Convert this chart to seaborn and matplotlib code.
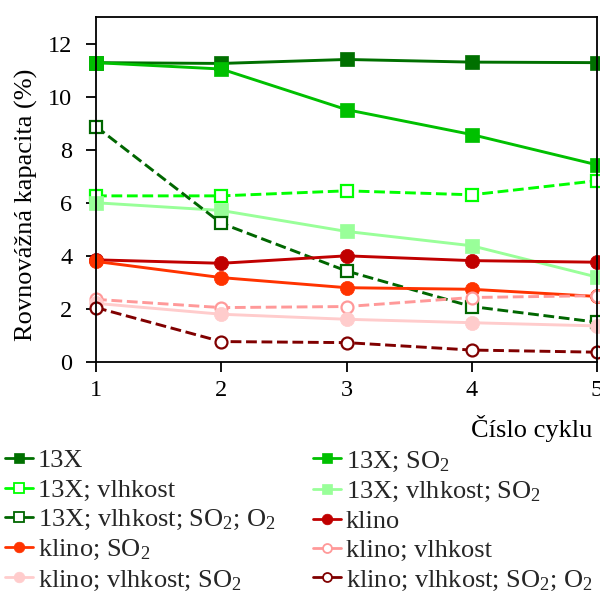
import matplotlib
matplotlib.use("Agg")
import matplotlib.pyplot as plt
from matplotlib.lines import Line2D
import seaborn as sns
import pandas as pd

cycles = [1, 2, 3, 4, 5]
labels = [
    "13X", "13X; SO$_\\mathrm{2}$", "13X; vlhkost", "13X; vlhkost; SO$_\\mathrm{2}$",
    "13X; vlhkost; SO$_\\mathrm{2}$; O$_\\mathrm{2}$", "klino", "klino; SO$_\\mathrm{2}$",
    "klino; vlhkost", "klino; vlhkost; SO$_\\mathrm{2}$",
    "klino; vlhkost; SO$_\\mathrm{2}$; O$_\\mathrm{2}$",
]
v_13x = [11.28, 11.25, 11.40, 11.30, 11.28]
v_13x_so2 = [11.28, 11.04, 9.51, 8.57, 7.43]
v_13x_vl = [6.26, 6.26, 6.45, 6.30, 6.83]
v_13x_vl_so2 = [6.00, 5.71, 4.92, 4.38, 3.20]
v_13x_vl_so2_o2 = [8.87, 5.23, 3.43, 2.09, 1.50]
v_kl = [3.85, 3.72, 4.00, 3.82, 3.76]
v_kl_so2 = [3.79, 3.18, 2.80, 2.74, 2.47]
v_kl_vl = [2.36, 2.05, 2.09, 2.43, 2.50]
v_kl_vl_so2 = [2.21, 1.80, 1.61, 1.48, 1.36]
v_kl_vl_so2_o2 = [2.05, 0.77, 0.73, 0.45, 0.37]

series = [v_13x, v_13x_so2, v_13x_vl, v_13x_vl_so2, v_13x_vl_so2_o2,
          v_kl, v_kl_so2, v_kl_vl, v_kl_vl_so2, v_kl_vl_so2_o2]
colors = ["#007000", "#00c000", "#00ff00", "#99ff99", "#006600",
          "#c00000", "#ff3300", "#ff9999", "#ffcccc", "#800000"]
markers = ["s", "s", "s", "s", "s", "o", "o", "o", "o", "o"]
filled = [True, True, False, True, False, True, True, False, True, False]
dashed = [False, False, True, False, True, False, False, True, False, True]

sns.set_theme(style="ticks")
plt.rcParams["font.family"] = ["Liberation Serif", "DejaVu Serif"]
plt.rcParams["mathtext.fontset"] = "custom"
plt.rcParams["mathtext.rm"] = "Liberation Serif"
plt.rcParams["mathtext.it"] = "Liberation Serif:italic"

fig = plt.figure(figsize=(6.0, 5.95), dpi=100)
ax = fig.add_axes([96 / 600, 1 - 362 / 595, 501 / 600, 345 / 595])


def msize(m, f):
    if m == "s":
        return 10 if f else 9.3
    return 10.2 if f else 8.6


proxies = []
for vals, lab, c, m, f, d in zip(series, labels, colors, markers, filled, dashed):
    df = pd.DataFrame({"x": cycles, "y": vals})
    kw = dict(color=c, marker=m, markersize=msize(m, f),
              markerfacecolor=(c if f else "white"), markeredgecolor=c,
              markeredgewidth=(0.5 if f else 1.6))
    sns.lineplot(data=df, x="x", y="y", ax=ax, linestyle=("--" if d else "-"),
                 linewidth=2.1, label=lab, legend=False, clip_on=False, **kw)
    kw["markersize"] = msize(m, f) * 0.75
    kw["markeredgewidth"] = 0.5 if f else 1.3
    proxies.append(Line2D([], [], linestyle="-", linewidth=2.0, **kw))

ax.set_xlim(1, 5)
ax.set_ylim(0, 13)
ax.set_xticks(cycles)
ax.set_yticks([0, 2, 4, 6, 8, 10, 12])
ax.tick_params(axis="both", labelsize=17.5, direction="out", length=7, width=1.3,
               color="black", labelcolor="black")
ax.tick_params(axis="y", pad=10)
ax.tick_params(axis="x", pad=6)
for s in ax.spines.values():
    s.set_visible(True)
    s.set_color("black")
    s.set_linewidth(1.3)
ax.set_ylabel("Rovnovážná kapacita (%)", fontsize=19, color="black")
ax.yaxis.set_label_coords(-0.115, 0.455)
ax.set_xlabel("Číslo cyklu", fontsize=19, color="black", loc="right", labelpad=6)
ax.xaxis.set_label_coords(991 / 1000, -0.155)

left = [0, 2, 4, 6, 8]
right = [1, 3, 5, 7, 9]
common = dict(loc="upper left", frameon=False, fontsize=19, handlelength=1.06,
              handletextpad=0.19, labelspacing=0.22, borderaxespad=0, borderpad=0)
leg1 = fig.legend([proxies[i] for i in left], [labels[i] for i in left],
                  bbox_to_anchor=(5 / 600, 1 - 449 / 595), **common)
leg2 = fig.legend([proxies[i] for i in right], [labels[i] for i in right],
                  bbox_to_anchor=(313 / 600, 1 - 449 / 595), **common)

fig.savefig("out.png", dpi=100)
